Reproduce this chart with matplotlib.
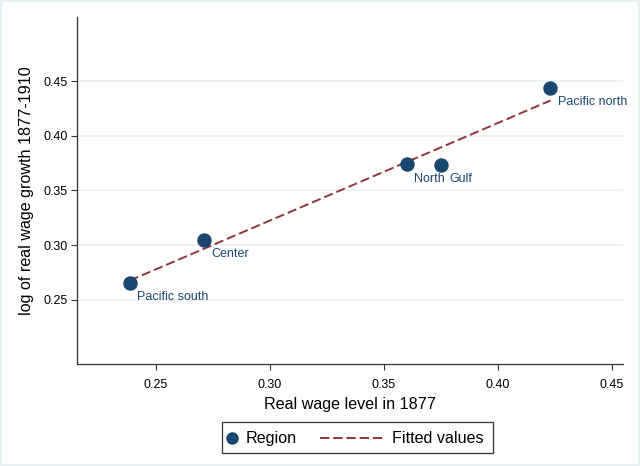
import matplotlib
matplotlib.use("Agg")
import matplotlib.pyplot as plt
from matplotlib.lines import Line2D
from matplotlib.patches import Rectangle

# valores
regiones = ["Pacific south", "Center", "North", "Gulf", "Pacific north"]
salario_1877 = [0.2385, 0.2712, 0.3600, 0.3753, 0.4231]
crecimiento = [0.2656, 0.3052, 0.3740, 0.3735, 0.4440]
ajustados = [0.2677, 0.2968, 0.3760, 0.3896, 0.4322]

ticks_x = [0.25, 0.30, 0.35, 0.40, 0.45]
ticks_y = [0.25, 0.30, 0.35, 0.40, 0.45]

azul = "#1a476f"
granate = "#90353b"
guiones = (4.8, 2.0)

plt.rcParams["font.family"] = ["Liberation Sans", "DejaVu Sans"]

fig = plt.figure(figsize=(6.4, 4.66), dpi=100)
fig.patches.append(Rectangle((0, 0), 1, 1, transform=fig.transFigure,
                             fill=False, edgecolor="#e6eff2", linewidth=3))
ax = fig.add_axes([0.121, 0.219, 0.852, 0.745])

ax.plot(salario_1877, ajustados, color=granate, linewidth=1.4,
        dashes=guiones, zorder=3)
ax.plot(salario_1877, crecimiento, "o", color=azul, markersize=9.4,
        linestyle="none", zorder=4)
for nombre, x, y in zip(regiones, salario_1877, crecimiento):
    ax.annotate(nombre, (x, y), xytext=(5.5, -10.5), textcoords="offset points",
                ha="left", va="center", fontsize=9, color=azul, zorder=5)

ax.set_xlim(0.2156, 0.4548)
ax.set_ylim(0.1915, 0.5087)
ax.set_xticks(ticks_x)
ax.set_yticks(ticks_y)
ax.set_xticklabels([f"{t:.2f}" for t in ticks_x])
ax.set_yticklabels([f"{t:.2f}" for t in ticks_y])
ax.tick_params(axis="both", labelsize=9, length=4.5, width=0.8, color="#333333")
ax.tick_params(axis="x", pad=6)
ax.tick_params(axis="y", pad=2.5)

ax.grid(axis="y", color="#e8f0f2", linewidth=1.2)
ax.set_axisbelow(True)
for lado in ["top", "right"]:
    ax.spines[lado].set_visible(False)
for lado in ["left", "bottom"]:
    ax.spines[lado].set_color("#333333")
    ax.spines[lado].set_linewidth(0.9)

ax.set_xlabel("Real wage level in 1877", fontsize=11.6, labelpad=5)
ax.set_ylabel("log of real wage growth 1877-1910", fontsize=11.6, labelpad=7)

# leyenda dibujada a mano para imitar el estilo de Stata
fig.patches.append(Rectangle((0.3464, 0.0277), 0.4234, 0.0657,
                             transform=fig.transFigure, facecolor="white",
                             edgecolor="#333333", linewidth=0.9))
y_ley = 0.0594
fig.lines.append(Line2D([0.362], [y_ley], transform=fig.transFigure,
                        marker="o", color=azul, markersize=8, linestyle="none"))
fig.text(0.3835, y_ley, "Region", fontsize=11.6, va="center", ha="left")
fig.lines.append(Line2D([0.500, 0.597], [y_ley, y_ley], transform=fig.transFigure,
                        color=granate, linewidth=1.4, dashes=guiones))
fig.text(0.612, y_ley, "Fitted values", fontsize=11.6, va="center", ha="left")

fig.savefig("out.png", dpi=100)
